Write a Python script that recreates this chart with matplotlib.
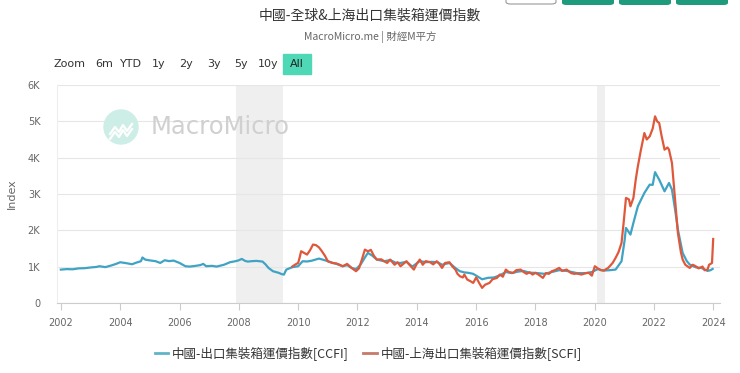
import numpy as np
import matplotlib
matplotlib.use("Agg")
from matplotlib import pyplot as plt
from matplotlib.patches import Ellipse, Rectangle, FancyBboxPatch

plt.rcParams['font.family'] = ['Noto Sans CJK TC', 'DejaVu Sans']

# 中國-出口集裝箱運價指數 (CCFI)
ccfi_t = [2002.0, 2002.2, 2002.4, 2002.6, 2002.8, 2003.0, 2003.2, 2003.3, 2003.5, 2003.7, 2003.85,
          2004.0, 2004.2, 2004.4, 2004.55, 2004.7, 2004.75, 2004.85, 2005.0, 2005.2, 2005.35, 2005.5,
          2005.65, 2005.8, 2006.0, 2006.2, 2006.35, 2006.5, 2006.7, 2006.8, 2006.9, 2007.1, 2007.25,
          2007.5, 2007.7, 2007.9, 2008.0, 2008.1, 2008.2, 2008.3, 2008.45, 2008.6, 2008.8, 2008.9,
          2009.0, 2009.15, 2009.35, 2009.45, 2009.52, 2009.6, 2009.8, 2010.0, 2010.15, 2010.3, 2010.45,
          2010.7, 2010.9, 2011.1, 2011.3, 2011.5, 2011.65, 2011.8, 2011.95, 2012.1, 2012.25, 2012.35,
          2012.5, 2012.65, 2012.9, 2013.1, 2013.3, 2013.45, 2013.65, 2013.85, 2014.1, 2014.3, 2014.5,
          2014.7, 2014.85, 2015.1, 2015.3, 2015.45, 2015.6, 2015.75, 2015.9, 2016.1, 2016.2, 2016.4,
          2016.6, 2016.8, 2017.0, 2017.2, 2017.4, 2017.6, 2017.8, 2018.0, 2018.3, 2018.55, 2018.8,
          2019.05, 2019.4, 2019.7, 2019.9, 2020.1, 2020.3, 2020.5, 2020.7, 2020.9, 2021.0, 2021.05,
          2021.2, 2021.3, 2021.45, 2021.67, 2021.85, 2021.95, 2022.03, 2022.17, 2022.35, 2022.5,
          2022.6, 2022.7, 2022.8, 2022.96, 2023.1, 2023.2, 2023.4, 2023.6, 2023.8, 2023.9, 2023.97]
ccfi_v = [917, 930, 925, 950, 955, 975, 990, 1010, 985, 1030, 1070,
          1119, 1095, 1064, 1110, 1147, 1250, 1190, 1170, 1147, 1100, 1174,
          1150, 1165, 1100, 1009, 1000, 1015, 1040, 1073, 1010, 1020, 1000,
          1050, 1119, 1150, 1174, 1211, 1160, 1137, 1150, 1156, 1137, 1060,
          963, 872, 826, 790, 780, 917, 982, 1009, 1147, 1140, 1160,
          1220, 1174, 1119, 1070, 1009, 1040, 963, 930, 1050, 1250, 1376,
          1300, 1193, 1147, 1180, 1100, 1100, 1130, 1000, 1150, 1120, 1130,
          1120, 1050, 1100, 960, 872, 840, 826, 800, 700, 650, 690,
          700, 760, 850, 820, 860, 880, 830, 826, 800, 850, 900,
          880, 820, 820, 850, 930, 890, 900, 917, 1147, 1700, 2064,
          1881, 2202, 2660, 3028, 3257, 3250, 3600, 3394, 3073, 3303,
          3119, 2600, 2018, 1376, 1150, 1055, 980, 960, 880, 900, 935]

# 中國-上海出口集裝箱運價指數 (SCFI)
scfi_t = [2009.8, 2009.9, 2010.0, 2010.05, 2010.1, 2010.2, 2010.3, 2010.4, 2010.5, 2010.6, 2010.7,
          2010.8, 2010.9, 2011.0, 2011.15, 2011.3, 2011.4, 2011.5, 2011.65, 2011.8, 2011.95, 2012.05,
          2012.15, 2012.25, 2012.35, 2012.45, 2012.55, 2012.65, 2012.8, 2012.9, 2013.0, 2013.1, 2013.25,
          2013.35, 2013.45, 2013.55, 2013.65, 2013.75, 2013.9, 2014.0, 2014.1, 2014.2, 2014.3, 2014.45,
          2014.55, 2014.67, 2014.75, 2014.85, 2014.95, 2015.1, 2015.2, 2015.3, 2015.37, 2015.45, 2015.55,
          2015.6, 2015.7, 2015.8, 2015.9, 2016.0, 2016.1, 2016.2, 2016.3, 2016.45, 2016.55, 2016.7,
          2016.8, 2016.9, 2017.0, 2017.1, 2017.25, 2017.35, 2017.5, 2017.6, 2017.7, 2017.8, 2017.9,
          2018.0, 2018.1, 2018.25, 2018.35, 2018.45, 2018.55, 2018.65, 2018.8, 2018.9, 2019.05, 2019.2,
          2019.3, 2019.4, 2019.55, 2019.7, 2019.8, 2019.9, 2020.0, 2020.1, 2020.2, 2020.3, 2020.45,
          2020.6, 2020.7, 2020.8, 2020.9, 2020.97, 2021.05, 2021.15, 2021.2, 2021.3, 2021.38, 2021.45,
          2021.55, 2021.67, 2021.75, 2021.85, 2021.95, 2022.03, 2022.1, 2022.17, 2022.25, 2022.35, 2022.45,
          2022.5, 2022.6, 2022.7, 2022.8, 2022.9, 2022.96, 2023.05, 2023.2, 2023.3, 2023.4, 2023.5,
          2023.63, 2023.7, 2023.8, 2023.85, 2023.9, 2023.95, 2023.99]
scfi_v = [1000, 1055, 1100, 1250, 1422, 1376, 1330, 1450, 1606, 1590, 1530,
          1422, 1300, 1147, 1100, 1083, 1050, 1009, 1073, 963, 872, 950,
          1200, 1468, 1420, 1460, 1300, 1193, 1200, 1147, 1100, 1193, 1050,
          1120, 1009, 1080, 1147, 1050, 917, 1080, 1193, 1050, 1150, 1119,
          1060, 1147, 1080, 963, 1100, 1119, 1000, 917, 800, 734, 700,
          780, 642, 600, 550, 700, 550, 413, 500, 550, 650, 688,
          780, 720, 917, 850, 826, 900, 917, 850, 800, 844, 780,
          826, 780, 688, 820, 800, 872, 900, 963, 880, 917, 820,
          800, 807, 780, 820, 826, 750, 1009, 950, 900, 890, 963,
          1100, 1239, 1400, 1651, 2200, 2890, 2850, 2660, 2890, 3400, 3761,
          4200, 4679, 4500, 4587, 4800, 5138, 5000, 4954, 4600, 4220, 4280,
          4220, 3853, 2900, 1927, 1400, 1193, 1050, 963, 1050, 1009, 950,
          1000, 900, 917, 1050, 1073, 1100, 1760]

recessions = [(2007.92, 2009.5), (2020.08, 2020.33)]
x_ticks = list(range(2002, 2025, 2))
y_ticks = [0, 1000, 2000, 3000, 4000, 5000, 6000]
y_labels = ['0', '1K', '2K', '3K', '4K', '5K', '6K']

c_ccfi = '#3fa3c4'
c_scfi = '#e0583b'

fig = plt.figure(figsize=(7.4, 3.73), dpi=100)
ax = fig.add_axes([0.077, 0.188, 0.896, 0.584])

for a, b in recessions:
    ax.axvspan(a, b, color='#efefef', lw=0, zorder=0)

ax.plot(ccfi_t, ccfi_v, color=c_ccfi, lw=1.6, zorder=3)
ax.plot(scfi_t, scfi_v, color=c_scfi, lw=1.6, zorder=4)

ax.set_xlim(2001.87, 2024.22)
ax.set_ylim(0, 6000)
ax.set_xticks(x_ticks)
ax.set_xticklabels([str(t) for t in x_ticks], fontsize=7, color='#666666', family='DejaVu Sans')
ax.set_yticks(y_ticks)
ax.set_yticklabels(y_labels, fontsize=7, color='#666666', family='DejaVu Sans')
ax.tick_params(axis='y', length=0, pad=12)
ax.tick_params(axis='x', length=5, color='#cccccc', pad=6)
ax.grid(axis='y', color='#e6e6e6', lw=0.8)
ax.set_axisbelow(True)
for s in ['top', 'right']:
    ax.spines[s].set_visible(False)
ax.spines['left'].set_color('#eeeeee')
ax.spines['bottom'].set_color('#cccccc')
ax.set_ylabel('Index', fontsize=8, color='#666666', labelpad=8, family='DejaVu Sans')

# 浮水印
W, H = 740, 373
fig.patches.append(Ellipse((121 / W, 1 - 127 / H), 34 / W, 34 / H,
                           transform=fig.transFigure, color='#cdeee6', zorder=1))
icon_x = [110, 115, 119, 123, 127, 132]
icon_y = [134, 127, 132, 125, 131, 124]
fig.lines.append(plt.Line2D([v / W for v in icon_x], [1 - v / H for v in icon_y],
                            transform=fig.transFigure, color='white', lw=1.6, zorder=2))
fig.lines.append(plt.Line2D([v / W for v in icon_x], [1 - (v + 5) / H for v in icon_y],
                            transform=fig.transFigure, color='white', lw=1.6, zorder=2))
fig.text(151 / W, 1 - 127 / H, 'MacroMicro', fontsize=17.5, color='#d0d0d0',
         va='center', ha='left', family='DejaVu Sans')

# 標題
fig.text(0.5, 1 - 16 / H, '中國-全球&上海出口集裝箱運價指數', ha='center', va='center',
         fontsize=10, color='#333333')
fig.text(0.5, 1 - 37 / H, 'MacroMicro.me | 財經M平方', ha='center', va='center',
         fontsize=7.5, color='#666666')

# 右上角按鈕
fig.patches.append(FancyBboxPatch((506 / W, 1 - 4 / H), 50 / W, 10 / H, boxstyle='round,pad=0,rounding_size=0.006',
                                  transform=fig.transFigure, facecolor='white', edgecolor='#999999', lw=0.8))
for bx in [562, 619, 676]:
    fig.patches.append(FancyBboxPatch((bx / W, 1 - 5 / H), 52 / W, 10 / H, boxstyle='round,pad=0,rounding_size=0.006',
                                      transform=fig.transFigure, facecolor='#1e9a7c', edgecolor='none'))

# 範圍按鈕
btns = ['Zoom', '6m', 'YTD', '1y', '2y', '3y', '5y', '10y']
btn_x = [70, 104, 131, 159, 186, 214, 241, 268]
for lab, bx in zip(btns, btn_x):
    fig.text(bx / W, 1 - 64 / H, lab, ha='center', va='center', fontsize=8, color='#333333',
             family='DejaVu Sans')
fig.patches.append(Rectangle((283 / W, 1 - 74 / H), 28 / W, 20 / H,
                             transform=fig.transFigure, color='#4fd8b6'))
fig.text(297 / W, 1 - 64 / H, 'All', ha='center', va='center', fontsize=8, color='#222222',
         family='DejaVu Sans')

# 圖例
fig.lines.append(plt.Line2D([155 / W, 168 / W], [1 - 353 / H] * 2, transform=fig.transFigure,
                            color='#5fb4c6', lw=2))
fig.text(172 / W, 1 - 353 / H, '中國-出口集裝箱運價指數[CCFI]', va='center', fontsize=9,
         color='#333333')
fig.lines.append(plt.Line2D([363 / W, 377 / W], [1 - 353 / H] * 2, transform=fig.transFigure,
                            color='#c8786a', lw=2))
fig.text(381 / W, 1 - 353 / H, '中國-上海出口集裝箱運價指數[SCFI]', va='center', fontsize=9,
         color='#333333')

fig.savefig('out.png', dpi=100)
